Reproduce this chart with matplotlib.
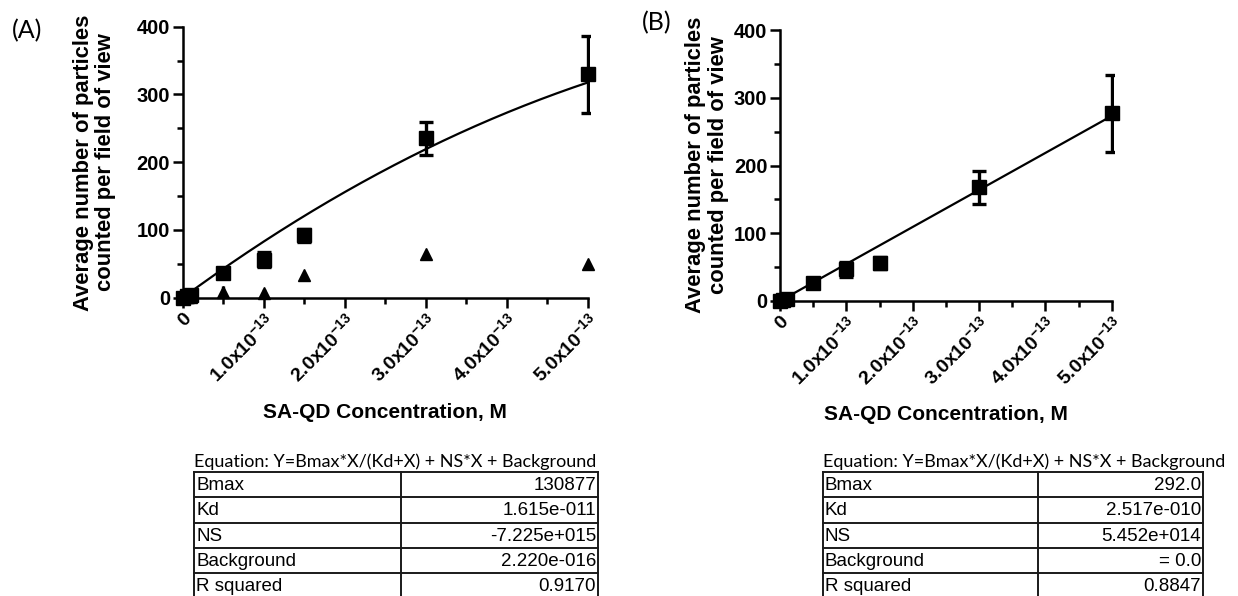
import numpy as np
import matplotlib
matplotlib.use("Agg")
import matplotlib.pyplot as plt
from matplotlib.lines import Line2D
from matplotlib.ticker import FixedLocator

plt.rcParams['font.family'] = ['Liberation Sans', 'DejaVu Sans']
plt.rcParams['mathtext.fontset'] = 'custom'
plt.rcParams['mathtext.rm'] = 'Liberation Sans'
plt.rcParams['mathtext.bf'] = 'Liberation Sans:bold'
plt.rcParams['mathtext.default'] = 'bf'

# SA-QD concentrations (M)
conc = [0.0, 0.05e-13, 0.1e-13, 0.5e-13, 1.0e-13, 1.5e-13, 3.0e-13, 5.0e-13]

# Panel A: specific binding (squares) and non-specific control (triangles)
a_specific = [0, 2, 4, 36, 56, 92, 235, 330]
a_specific_err = [1, 2, 2, 3, 11, 10, 24, 57]
a_control = [0, 1, 1, 9, 6.5, 34, 65, 50]
a_control_err = [0.5, 1, 1, 8, 6.5, 1, 1, 1]

# Panel B: specific binding
b_specific = [0, 2, 3, 26, 47, 56, 168, 277]
b_specific_err = [1, 2, 2, 3, 11, 9, 24.5, 57]

# Fitted parameters, Y = Bmax*X/(Kd+X) + NS*X + Background
a_bmax, a_kd, a_ns, a_bg = 130877, 1.615e-11, -7.225e15, 2.220e-16
b_bmax, b_kd, b_ns, b_bg = 292.0, 2.517e-10, 5.452e14, 0.0

param_names = ['Bmax', 'Kd', 'NS', 'Background', 'R squared']
a_param_text = ['130877', '1.615e-011', '-7.225e+015', '2.220e-016', '0.9170']
b_param_text = ['292.0', '2.517e-010', '5.452e+014', '= 0.0', '0.8847']
equation_text = 'Equation: Y=Bmax*X/(Kd+X) + NS*X + Background'

x_major = [0, 1e-13, 2e-13, 3e-13, 4e-13, 5e-13]
x_minor = [0.5e-13, 1.5e-13, 2.5e-13, 3.5e-13, 4.5e-13]
x_labels = ['0', '1.0x10$^{-13}$', '2.0x10$^{-13}$', '3.0x10$^{-13}$',
            '4.0x10$^{-13}$', '5.0x10$^{-13}$']
y_major = [0, 100, 200, 300, 400]
y_minor = [50, 150, 250, 350]

W, H = 1238, 596
fig = plt.figure(figsize=(W / 100, H / 100), dpi=100)


def fx(px):
    return px / W


def fy(py):
    return 1 - py / H


XMAX = 5.03e-13


def make_axes(left, right5, top, bottom):
    # right5: pixel position of x = 5e-13
    width = (right5 - left) * XMAX / 5e-13
    ax = fig.add_axes([fx(left), fy(bottom), width / W, (bottom - top) / H])
    ax.set_xlim(0, XMAX)
    ax.set_ylim(0, 400)
    for s in ('top', 'right'):
        ax.spines[s].set_visible(False)
    for s in ('left', 'bottom'):
        ax.spines[s].set_linewidth(1.8)
    ax.spines['bottom'].set_bounds(0, 5e-13)
    ax.spines['left'].set_bounds(0, 400)
    ax.xaxis.set_major_locator(FixedLocator(x_major))
    ax.xaxis.set_minor_locator(FixedLocator(x_minor))
    ax.yaxis.set_major_locator(FixedLocator(y_major))
    ax.yaxis.set_minor_locator(FixedLocator(y_minor))
    ax.set_xticklabels([r'$\mathbf{' + t.replace('$', '') + '}$' if i else '0'
                        for i, t in enumerate(x_labels)],
                       rotation=45, ha='right', va='top',
                       rotation_mode='anchor', fontsize=14, fontweight='bold')
    ax.set_yticklabels([str(v) for v in y_major], fontsize=14.5, fontweight='bold')
    ax.tick_params(which='major', length=7, width=1.8, pad=2)
    ax.tick_params(which='minor', length=4, width=1.8)
    ax.patch.set_visible(False)
    return ax


def draw_series(ax, y, err, marker, ms, capsize=5):
    ax.errorbar(conc, y, yerr=err, fmt='none', ecolor='black',
                elinewidth=2.4, capsize=capsize, capthick=2.4, zorder=2)
    ax.plot(conc, y, marker, ms=ms, color='black', clip_on=False, zorder=3)


def draw_fit(ax, bmax, kd, ns, bg):
    X = np.linspace(0, 5e-13, 300)
    Y = bmax * X / (kd + X) + ns * X + bg
    ax.plot(X, Y, color='black', lw=1.6, zorder=2)


def draw_table(left, mid, right, top, row_h, values):
    fig.text(fx(left), fy(top - 10), equation_text, fontsize=13,
             family=['Lato', 'DejaVu Sans'], ha='left', va='center')
    n = len(param_names)
    kw = dict(transform=fig.transFigure, color='#1a1a1a', lw=1.4)
    for i in range(n + 1):
        yy = top + i * row_h
        fig.add_artist(Line2D([fx(left), fx(right)], [fy(yy), fy(yy)], **kw))
    bottom = top + n * row_h
    for xx in (left, mid, right):
        fig.add_artist(Line2D([fx(xx), fx(xx)], [fy(top), fy(bottom)], **kw))
    for i, (name, val) in enumerate(zip(param_names, values)):
        yc = top + (i + 0.5) * row_h + 1
        fig.text(fx(left + 2), fy(yc), name, fontsize=13.5, ha='left', va='center')
        fig.text(fx(right - 2), fy(yc), val, fontsize=13.5, ha='right', va='center')


ylabel = 'Average number of particles\ncounted per field of view'
xlabel = 'SA-QD Concentration, M'

# Panel A
axA = make_axes(182.7, 588, 26.7, 297.7)
draw_fit(axA, a_bmax, a_kd, a_ns, a_bg)
draw_series(axA, a_control, a_control_err, '^', 8.5, capsize=0)
draw_series(axA, a_specific, a_specific_err, 's', 10)
fig.text(fx(94.5), fy(162.5), ylabel, rotation=90, ha='center', va='center',
         fontsize=15.8, fontweight='bold', linespacing=1.12)
fig.text(fx(385), fy(412), xlabel, ha='center', va='center',
         fontsize=15, fontweight='bold')
fig.text(fx(27.5), fy(31), '(A)', ha='center', va='center', fontsize=18,
         family=['Lato', 'DejaVu Sans'])
draw_table(194, 401, 598, 472, 25.3, a_param_text)

# Panel B
axB = make_axes(780, 1111.7, 30, 301)
draw_fit(axB, b_bmax, b_kd, b_ns, b_bg)
draw_series(axB, b_specific, b_specific_err, 's', 10)
fig.text(fx(707.4), fy(165), ylabel, rotation=90, ha='center', va='center',
         fontsize=15.8, fontweight='bold', linespacing=1.12)
fig.text(fx(946), fy(415), xlabel, ha='center', va='center',
         fontsize=15, fontweight='bold')
fig.text(fx(657), fy(23), '(B)', ha='center', va='center', fontsize=18,
         family=['Lato', 'DejaVu Sans'])
draw_table(823, 1038, 1203, 472, 25.3, b_param_text)

fig.savefig('out.png', dpi=100)
